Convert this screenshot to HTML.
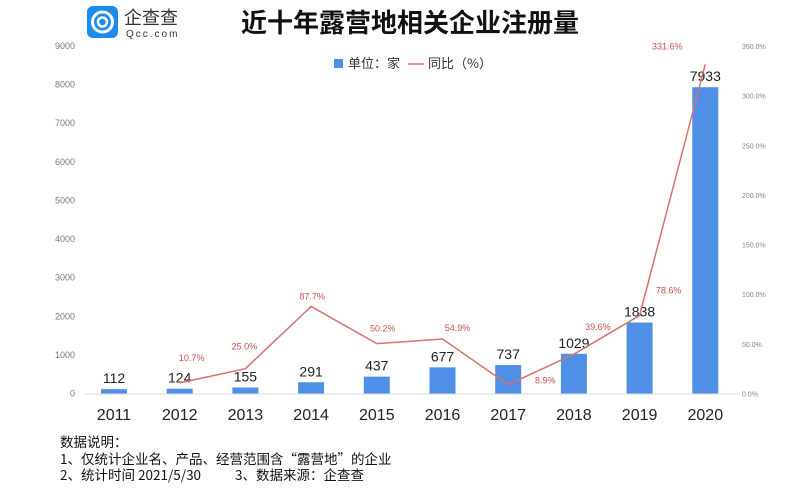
<!DOCTYPE html>
<html><head><meta charset="utf-8"><style>
body{margin:0;width:797px;height:492px;background:#fff;overflow:hidden;font-family:"Liberation Sans","Noto Sans CJK SC",sans-serif}
</style></head><body>
<svg width="797" height="492" style="position:absolute;left:0;top:0">
<g>
<rect x="87" y="6" width="31" height="32" rx="6" fill="#1a8cf0"/>
<circle cx="102.5" cy="22" r="10" fill="none" stroke="#fff" stroke-width="3"/>
<circle cx="102.5" cy="22" r="4.5" fill="none" stroke="#fff" stroke-width="2.5"/>
<text x="124" y="24" font-size="18" fill="#333" font-family="Noto Sans CJK SC,sans-serif">企查查</text>
<text x="126" y="37" font-size="10" fill="#333" letter-spacing="2">Qcc.com</text>
</g>
<text x="410" y="32" text-anchor="middle" font-size="26" font-weight="bold" fill="#111" font-family="Noto Sans CJK SC,sans-serif">近十年露营地相关企业注册量</text>
<g font-size="13" fill="#333" font-family="Noto Sans CJK SC,sans-serif">
<rect x="334" y="59" width="9" height="9" fill="#4f8fe6"/>
<text x="348" y="68">单位：家</text>
<line x1="408" y1="64" x2="424" y2="64" stroke="#d9706f" stroke-width="1.5"/>
<text x="428" y="68">同比（%）</text>
</g>
<g id="axes"></g>
<g id="bars"></g>
<g id="line"></g>
<g font-size="13.5" fill="#111" font-family="Noto Sans CJK SC,sans-serif">
<text x="60" y="447">数据说明：</text>
<text x="60" y="464">1、仅统计企业名、产品、经营范围含“露营地”的企业</text>
<text x="60" y="480">2、统计时间 2021/5/30</text>
<text x="235" y="480">3、数据来源：企查查</text>
</g>
</svg>
<script>
const years=["2011","2012","2013","2014","2015","2016","2017","2018","2019","2020"];
const counts=[112,124,155,291,437,677,737,1029,1838,7933];
const yoy=[null,10.7,25.0,87.7,50.2,54.9,8.9,39.6,78.6,331.6];
const leftTicks=[0,1000,2000,3000,4000,5000,6000,7000,8000,9000];
const rightTicks=[0,50,100,150,200,250,300,350];
const NS="http://www.w3.org/2000/svg";
const x0=114,step=65.7,base=393.5,yTop=46;
const xs=i=>x0+i*step;
const yl=v=>base-v/9000*(base-yTop);
const yr=v=>base-v/350*(base-yTop);
function mk(p,t,a,txt){const e=document.createElementNS(NS,t);for(const k in a)e.setAttribute(k,a[k]);if(txt!=null)e.textContent=txt;p.appendChild(e);return e;}
const ax=document.getElementById('axes');
const bl=mk(ax,'line',{x1:85,x2:740,y1:base+0.5,y2:base+0.5,stroke:'#ddd'});


leftTicks.forEach(v=>{const t=mk(ax,'text',{x:75,y:yl(v)+3,'text-anchor':'end','font-size':9,fill:'#777'},v);

});
rightTicks.forEach(v=>{const t=mk(ax,'text',{x:742,y:yr(v)+3,'font-size':7,fill:'#888'},v.toFixed(1)+'%');

});
years.forEach((y,i)=>{const t=mk(ax,'text',{x:xs(i),y:420,'text-anchor':'middle','font-size':16,fill:'#222'},y);

});
const bg=document.getElementById('bars');
counts.forEach((v,i)=>{const r=mk(bg,'rect',{x:xs(i)-13,y:yl(v),width:26,height:base-yl(v),fill:'#4f8fe6'});


const t=mk(bg,'text',{x:xs(i),y:yl(v)-6,'text-anchor':'middle','font-size':14,fill:'#222'},v);

});
const lg=document.getElementById('line');
let d='';yoy.forEach((v,i)=>{if(v==null)return;d+=(d?'L':'M')+xs(i)+','+yr(v);});
const p=mk(lg,'path',{d:d,fill:'none',stroke:'#d9706f','stroke-width':1.5});


const offs=[0,[12,-25],[-1,-22],[1,-10],[6,-15],[15,-11],[37,-4],[24,-27],[29,-25],[-38,-18]];
yoy.forEach((v,i)=>{if(v==null)return;const t=mk(lg,'text',{x:xs(i)+offs[i][0],y:yr(v)+offs[i][1]+3,'text-anchor':'middle','font-size':9,fill:'#c9504f'},v.toFixed(1)+'%');

});
</script>
</body></html>
